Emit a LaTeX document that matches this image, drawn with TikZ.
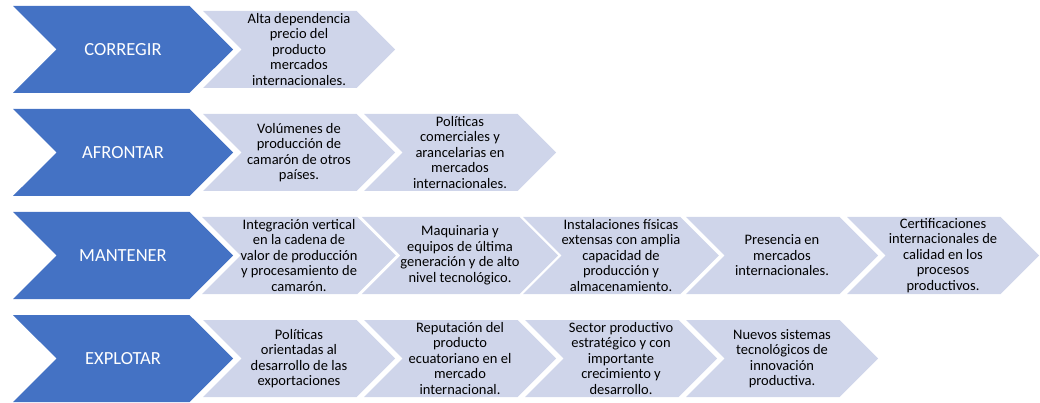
\documentclass[tikz,border=0pt]{standalone}
\usepackage{fontspec}
\setmainfont{Carlito}
\usetikzlibrary{shapes.symbols}
\definecolor{accionazul}{RGB}{68,114,196}
\definecolor{factorazul}{RGB}{207,213,234}
\tikzset{
  accion/.style={shape=signal, signal from=west, signal to=east, signal pointer angle=90,
    fill=accionazul, minimum width=220pt, minimum height=87pt, inner sep=0pt,
    text=white, font=\fontsize{18.5}{22}\selectfont},
  factor/.style={shape=signal, signal from=west, signal to=east, signal pointer angle=90,
    fill=factorazul, minimum width=192pt, minimum height=77pt, inner sep=0pt,
    align=center, font=\fontsize{14.5}{15.5}\selectfont}
}
\begin{document}
\begin{tikzpicture}[x=1pt, y=-1pt]
  \useasboundingbox (0,0) rectangle (1040,403);

  % corregir
  \node[accion] (corregir) at (123,49.5) {CORREGIR};
  \node[factor] (c1) at (299,49.5) {Alta dependencia\\precio del\\producto\\mercados\\internacionales.};

  % afrontar
  \node[accion] (afrontar) at (123,152.5) {AFRONTAR};
  \node[factor] (a1) at (299,152.5) {Volúmenes de\\producción de\\camarón de otros\\países.};
  \node[factor] (a2) at (460,152.5) {Políticas\\comerciales y\\arancelarias en\\mercados\\internacionales.};

  % mantener
  \node[accion] (mantener) at (123,255.5) {MANTENER};
  \node[factor] (m1) at (299,255.5) {Integración vertical\\en la cadena de\\valor de producción\\y procesamiento de\\camarón.};
  \node[factor] (m2) at (460,255.5) {Maquinaria y\\equipos de última\\generación y de alto\\nivel tecnológico.};
  \node[factor] (m3) at (621,255.5) {Instalaciones físicas\\extensas con amplia\\capacidad de\\producción y\\almacenamiento.};
  \node[factor] (m4) at (782,255.5) {Presencia en\\mercados\\internacionales.};
  \node[factor] (m5) at (943,255.5) {Certificaciones\\internacionales de\\calidad en los\\procesos\\productivos.};

  % explotar
  \node[accion] (explotar) at (123,358.5) {EXPLOTAR};
  \node[factor] (e1) at (299,358.5) {Políticas\\orientadas al\\desarrollo de las\\exportaciones};
  \node[factor] (e2) at (460,358.5) {Reputación del\\producto\\ecuatoriano en el\\mercado\\internacional.};
  \node[factor] (e3) at (621,358.5) {Sector productivo\\estratégico y con\\importante\\crecimiento y\\desarrollo.};
  \node[factor] (e4) at (782,358.5) {Nuevos sistemas\\tecnológicos de\\innovación\\productiva.};
\end{tikzpicture}
\end{document}
